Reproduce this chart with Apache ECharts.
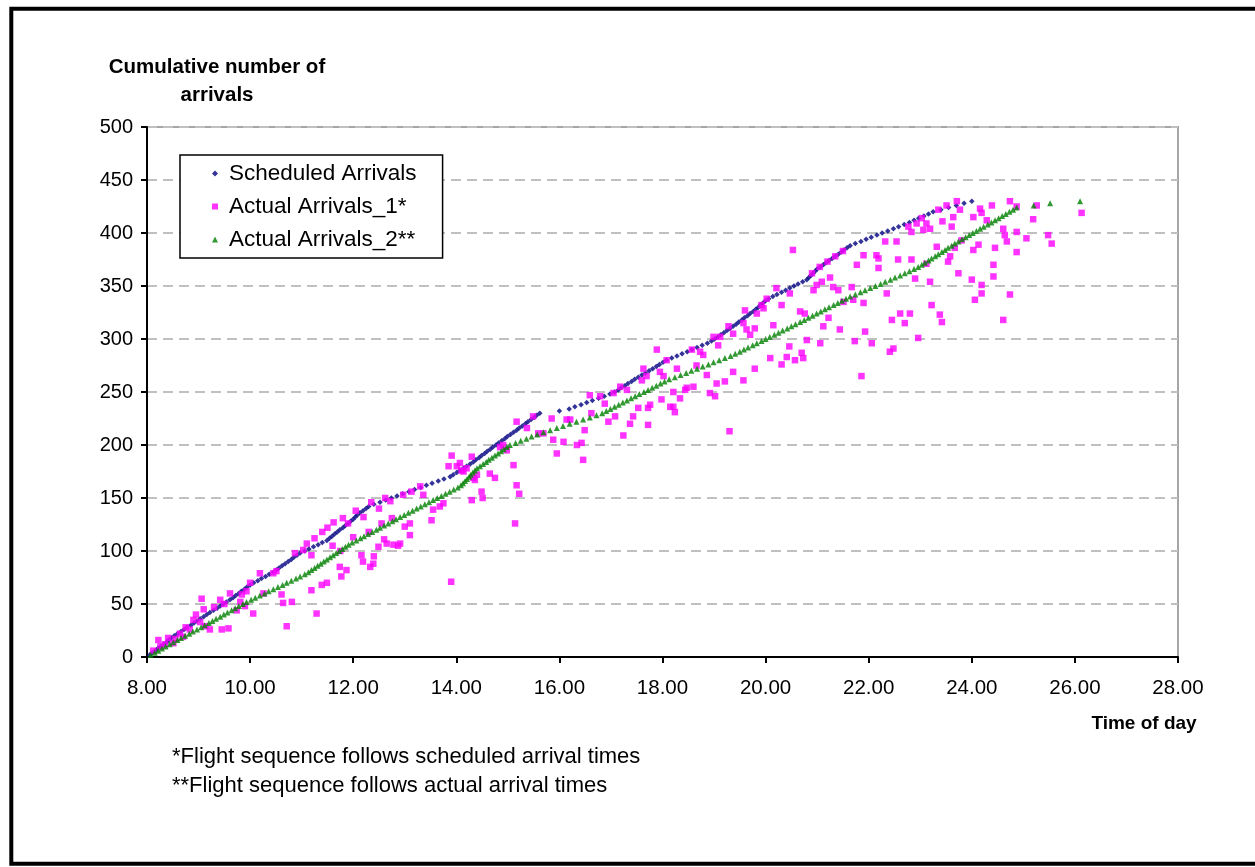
<!DOCTYPE html>
<html><head><meta charset="utf-8">
<script src="https://cdn.jsdelivr.net/npm/echarts@6/dist/echarts.min.js"></script>
<style>html,body{margin:0;padding:0;background:#fff}#c{width:1255px;height:867px}</style>
</head><body><div id="c"></div>
<script>
// ---- axis settings ----
const xMin = 8, xMax = 28, xStep = 2;
const yMin = 0, yMax = 500, yStep = 50;
const seriesNames = ['Scheduled Arrivals', 'Actual Arrivals_1*', 'Actual Arrivals_2**'];
const yTitle = 'Cumulative number of\narrivals';
const xTitle = 'Time of day';
const notes = ['*Flight sequence follows scheduled arrival times', '**Flight sequence follows actual arrival times'];

// each listed time is every 2nd arrival (cumulative count 2, 4, ... 430)
const countStep = 2;
const scheduledTimes = [
8.05,8.10,8.16,8.21,8.26,8.32,8.38,8.42,8.47,
8.53,8.59,8.66,8.72,8.78,8.85,8.91,8.97,9.03,9.10,9.16,
9.22,9.29,9.36,9.42,9.48,9.54,9.61,9.67,
9.72,9.78,9.83,9.89,9.94,10.00,
10.07,10.15,10.22,10.30,10.37,10.45,
10.51,10.56,10.62,10.68,10.74,10.80,10.85,10.91,10.97,
11.06,11.14,11.23,11.32,11.40,11.49,
11.54,11.59,11.64,11.69,11.74,11.80,11.85,11.90,11.95,12.00,
12.04,12.08,12.13,12.19,12.25,12.30,
12.40,12.52,12.63,12.74,12.85,
12.96,13.08,13.19,13.31,13.42,13.53,13.65,13.76,13.88,
13.94,14.01,14.07,14.14,14.20,14.27,
14.33,14.38,14.44,14.49,14.55,14.60,14.66,14.71,14.77,14.82,
14.88,14.94,14.99,15.05,15.11,15.17,15.22,15.28,15.34,15.39,15.45,15.51,15.56,15.62,
16.00,
16.19,16.30,16.42,16.53,16.64,16.76,16.87,16.98,
17.07,17.14,17.20,17.27,17.33,17.40,
17.46,17.53,17.60,17.67,17.74,17.81,17.88,17.94,18.01,18.08,
18.18,18.28,18.38,18.48,18.57,18.67,18.77,18.87,
18.95,19.01,19.07,19.13,19.19,19.25,19.31,19.37,
19.43,19.48,19.54,19.59,19.65,19.70,19.76,
19.81,19.86,19.90,19.95,20.00,
20.06,20.14,20.22,20.31,20.39,20.47,20.55,20.63,20.72,20.80,
20.84,20.88,20.92,20.96,21.00,
21.06,21.12,21.17,21.23,21.29,21.35,21.41,21.47,21.52,21.58,21.64,
21.74,21.85,21.95,
22.05,22.16,22.26,22.37,22.48,22.58,22.69,
22.79,22.88,22.97,23.07,23.16,23.25,
23.40,23.55,23.70,23.85,24.00
];
const actual2Times = [
8.07,8.15,8.22,8.29,8.36,8.44,8.51,
8.59,8.66,8.74,8.82,8.89,8.97,9.05,9.12,
9.20,9.27,9.34,9.42,9.49,9.56,9.64,9.71,9.78,9.86,9.93,
10.02,10.10,10.19,10.28,10.36,10.45,10.54,10.63,10.71,10.80,10.89,10.97,11.06,
11.13,11.19,11.25,11.31,11.37,11.43,11.49,11.55,11.61,11.67,11.73,11.79,11.85,11.91,
11.98,12.06,12.14,12.21,12.29,12.37,12.45,12.52,12.60,12.68,12.76,12.83,12.91,
12.99,13.07,13.15,13.23,13.31,13.39,13.47,13.55,13.63,13.71,13.79,13.87,13.95,14.03,
14.09,14.13,14.17,14.21,14.25,14.28,14.32,14.36,14.40,
14.46,14.52,14.58,14.63,14.69,14.75,14.81,14.87,14.92,14.98,15.04,
15.15,15.25,15.36,15.46,15.57,
15.69,15.82,15.95,16.07,16.20,16.33,16.46,16.59,16.72,
16.83,16.91,16.99,17.07,17.15,17.23,17.31,17.39,17.47,17.55,17.64,17.72,17.80,17.88,17.96,18.04,
18.13,18.24,18.35,18.46,18.56,18.67,18.78,18.89,18.99,19.10,19.21,19.32,
19.41,19.50,19.58,19.66,19.75,19.83,19.92,20.00,20.08,20.17,20.25,20.33,20.42,20.50,20.58,20.67,
20.75,20.83,20.91,20.99,21.07,21.15,21.23,21.32,21.40,21.48,21.56,21.64,
21.74,21.84,21.93,22.03,22.13,22.23,22.32,22.42,
22.51,22.61,22.70,22.79,22.88,
22.96,23.03,23.09,23.16,23.22,23.29,23.35,23.42,23.48,23.54,23.61,23.67,23.74,
23.81,23.88,23.95,24.02,24.09,24.16,24.23,24.31,24.38,
24.45,24.52,24.59,24.66,24.73,24.80,24.87,
25.20,25.52,26.10
];
// [actual time, cumulative number in scheduled sequence]
const actual1Points = [
[8.12,6],[8.22,16],[8.26,10],[8.35,12],[8.41,18],[8.51,13],[8.55,17],[8.64,22],[8.70,19],[8.75,28],[8.83,26],[8.90,35],[8.95,40],[9.03,33],[9.06,55],[9.10,45],[9.13,29],[9.22,26],[9.30,47],[9.42,54],[9.45,26],[9.50,50],[9.58,27],[9.61,60],[9.74,44],[9.81,52],[9.84,59],[9.90,48],[9.93,62],[10.00,70],[10.06,41],[10.19,79],[10.26,60],[10.45,79],[10.51,81],[10.61,59],[10.64,51],[10.71,29],[10.81,52],[10.87,98],[11.03,101],[11.19,96],[11.19,63],[11.29,41],[11.39,68],[11.49,70],[11.74,85],[11.77,76],[11.87,82],[12.16,96],[12.19,90],[12.33,85],[12.39,88],[12.49,104],[12.65,107],[12.78,106],[12.87,105],
[11.10,107],[11.25,112],[11.40,118],[11.50,122],[11.62,127],[11.80,131],[11.90,126],[12.05,138],[12.20,132],[12.35,146],[12.50,140],[12.62,150],[12.72,147],[11.60,105],[11.75,100],[12.00,113],[12.30,118],[12.55,126],[12.75,131],[12.40,95],[12.60,111],
[12.91,107],[12.97,153],[13.00,123],[13.10,126],[13.10,115],[13.13,156],[13.30,161],[13.36,153],[13.52,129],[13.55,139],[13.68,142],[13.75,145],[13.85,180],[13.90,71],[13.91,190],[14.01,180],[14.07,183],[14.10,176],[14.14,175],[14.20,178],[14.30,189],[14.30,148],[14.33,169],[14.36,167],[14.40,172],[14.49,156],[14.51,150],[14.65,173],[14.75,169],[14.85,198],[14.91,200],[14.98,195],[15.11,181],[15.14,126],[15.17,162],[15.17,222],[15.22,154],[15.37,216],[15.49,227],[15.59,211],[15.69,211],[15.85,225],[15.88,205],[15.95,192],[16.08,203],[16.14,224],[16.21,224],[16.34,200],[16.43,202],[16.46,186],[16.49,214],[16.59,247],[16.62,230],
[16.79,246],[16.88,239],[16.95,222],[17.05,249],[17.08,227],[17.18,255],[17.24,209],[17.31,252],[17.37,220],[17.43,227],[17.53,235],[17.60,261],[17.63,272],[17.69,265],[17.72,235],[17.72,219],[17.76,238],[17.89,290],[17.95,269],[17.98,243],[18.02,265],[18.08,280],[18.15,236],[18.21,236],[18.24,231],[18.21,250],[18.28,272],[18.34,244],[18.44,252],[18.47,254],[18.57,290],[18.60,255],[18.66,275],[18.73,288],[18.79,285],[18.86,266],[18.92,249],[19.02,246],[19.05,258],[18.99,302],[19.08,294],[19.12,302],[19.21,260],[19.28,312],[19.37,305],[19.37,269],[19.30,213],[19.57,261],[19.57,315],[19.60,327],[19.63,309],[19.70,304],[19.79,310],[19.79,272],[19.83,324],[19.92,332],[19.96,329],[20.02,338],[20.09,282],[20.15,313],[20.21,348],[20.31,332],[20.31,276],[20.41,283],[20.47,343],[20.46,293],[20.57,280],[20.67,326],[20.70,287],[20.73,282],[20.76,324],[20.80,299],[21.06,296],[21.12,312],[21.22,320],[20.93,346],[21.31,349],[21.41,346],[21.44,309],[21.51,335],[21.67,349],[21.73,298],[21.86,265],[21.90,334],[21.93,307],[22.06,296],[22.35,343],[22.41,288],[22.48,291],[22.45,318],[22.61,324],[21.09,354],[20.99,351],
[20.53,384],[20.90,362],[21.05,368],[21.20,373],[21.35,378],[21.50,383],[21.25,358],
[21.70,337],[21.77,370],[21.90,379],[22.15,379],[22.19,376],[22.19,367],[22.32,392],[22.54,392],[22.57,375],[22.70,315],[22.77,406],[22.80,324],[22.83,375],[22.83,401],[22.90,357],[22.93,409],[22.96,301],[23.03,414],[23.06,403],[23.12,371],[23.12,409],[23.19,354],[23.19,404],[23.22,332],[23.32,387],[23.35,422],[23.38,323],[23.42,316],[23.43,411],[23.51,426],[23.54,373],[23.58,378],[23.61,406],[23.64,415],[23.67,386],[23.71,430],[23.74,362],[23.77,422],[23.80,393],[24.00,356],[24.03,415],[24.06,337],[24.03,384],[24.13,389],[24.16,423],[24.19,351],[24.19,343],[24.19,419],[24.29,412],[24.39,426],[24.42,370],[24.42,359],[24.45,386],[24.61,404],[24.61,318],[24.64,398],[24.68,392],[24.74,430],[24.74,342],[24.87,401],[24.87,425],[24.87,382],[25.06,395],[25.19,413],[25.26,426],[25.48,398],[25.55,390],[26.13,419]
];

const colors = ['#000080', '#ff00ff', '#008000'];
const FONT = '"Liberation Sans", Arial, Helvetica, sans-serif';

const chart = echarts.init(document.getElementById('c'), null, {renderer: 'canvas'});
const cum = (arr) => arr.map((t, i) => [t, (i + 1) * countStep]);

const txt = (text, x, y, size, weight, align, lh) => ({
  type: 'text', x: x, y: y, silent: true,
  style: {text: text, fontSize: size, fontWeight: weight, fontFamily: FONT, fill: '#000',
    align: align, textAlign: align, verticalAlign: 'middle', textVerticalAlign: 'middle',
    lineHeight: lh || Math.round(size * 1.2)}
});

chart.setOption({
  animation: false,
  backgroundColor: '#ffffff',
  grid: {left: 147, top: 127, width: 1031, height: 530, show: true,
    borderColor: '#a6a6a6', borderWidth: 2, backgroundColor: 'transparent'},
  xAxis: {
    type: 'value', min: xMin, max: xMax, interval: xStep,
    axisLine: {show: true, onZero: false, lineStyle: {color: '#000', width: 2}},
    axisTick: {show: true, length: 6, lineStyle: {color: '#000', width: 2}},
    axisLabel: {formatter: v => v.toFixed(2), fontSize: 20.5, color: '#000', fontFamily: FONT, margin: 21},
    splitLine: {show: false}
  },
  yAxis: {
    type: 'value', min: yMin, max: yMax, interval: yStep,
    axisLine: {show: true, lineStyle: {color: '#000', width: 2}},
    axisTick: {show: true, length: 6, lineStyle: {color: '#000', width: 2}},
    axisLabel: {fontSize: 20, color: '#000', fontFamily: FONT, margin: 14},
    splitLine: {show: true, lineStyle: {color: '#c0c0c0', width: 2, type: [10, 6]}}
  },
  legend: {
    orient: 'vertical', left: 180, top: 155,
    padding: [2, 26, 2, 32], itemGap: 0, itemWidth: 6, itemHeight: 6,
    backgroundColor: '#fff', borderColor: '#000', borderWidth: 1.5, borderRadius: 0,
    selectedMode: false,
    textStyle: {fontSize: 22.5, color: '#000', fontFamily: FONT, lineHeight: 33, padding: [0, 0, 0, 6]},
    data: [
      {name: seriesNames[0], icon: 'diamond', itemStyle: {color: colors[0]}},
      {name: seriesNames[1], icon: 'rect', itemStyle: {color: colors[1]}},
      {name: seriesNames[2], icon: 'triangle', itemStyle: {color: colors[2]}}
    ]
  },
  series: [
    {name: seriesNames[0], type: 'scatter', symbol: 'diamond', symbolSize: 5.5,
      itemStyle: {color: colors[0]}, emphasis: {disabled: true}, data: cum(scheduledTimes)},
    {name: seriesNames[1], type: 'scatter', symbol: 'rect', symbolSize: 6.5,
      itemStyle: {color: colors[1]}, emphasis: {disabled: true}, data: actual1Points},
    {name: seriesNames[2], type: 'scatter', symbol: 'triangle', symbolSize: 6,
      itemStyle: {color: colors[2]}, emphasis: {disabled: true}, data: cum(actual2Times)}
  ],
  graphic: [
    {type: 'rect', silent: true, z: 100,
      shape: {x: 11.3, y: 8.7, width: 1320, height: 855},
      style: {fill: null, stroke: '#000', lineWidth: 4}},
    txt(yTitle, 217, 81, 20.5, 'bold', 'center', 28),
    txt(xTitle, 1144, 724, 19, 'bold', 'center'),
    txt(notes[0], 172, 757, 22, 'normal', 'left'),
    txt(notes[1], 172, 786, 22, 'normal', 'left')
  ]
});
</script>
</body></html>
